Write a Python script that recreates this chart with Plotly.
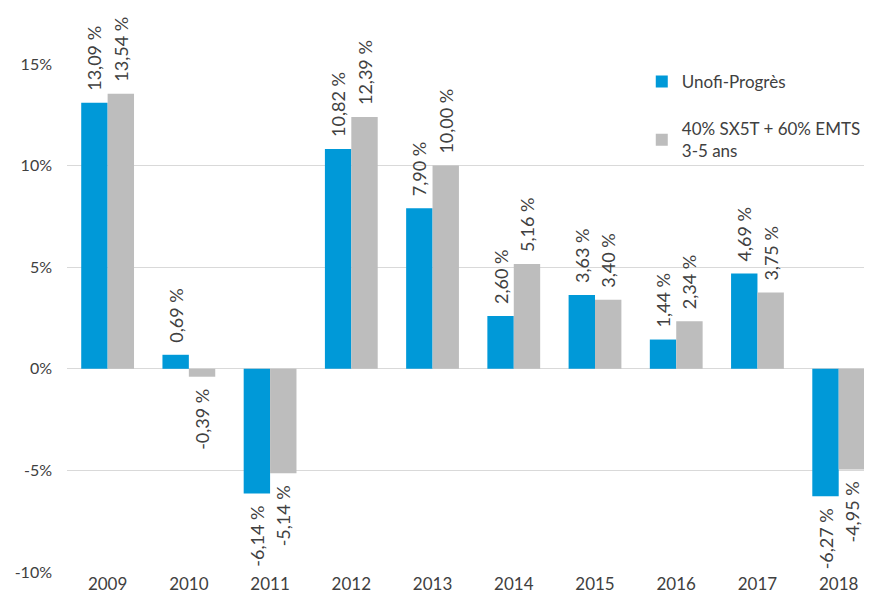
import plotly.graph_objects as go

years = ["2009", "2010", "2011", "2012", "2013", "2014", "2015", "2016", "2017", "2018"]
unofi = [13.09, 0.69, -6.14, 10.82, 7.90, 2.60, 3.63, 1.44, 4.69, -6.27]
bench = [13.54, -0.39, -5.14, 12.39, 10.00, 5.16, 3.40, 2.34, 3.75, -4.95]
names = ["Unofi-Progrès", "40% SX5T + 60% EMTS<br>3-5 ans"]
colors = ["#0099D8", "#BDBDBD"]
ytick_vals = [-10, -5, 0, 5, 10, 15]
ytick_text = ["-10%", "-5%", "0%", "5%", "10%", "15%"]

SP = "\u2002"

def fmt(v):
    s = f"{v:.2f}".replace(".", ",") + " %"
    return SP + s if v >= 0 else s + SP

FONT = "Lato"
xs = list(range(len(years)))
fig = go.Figure()
for i, (vals, name, col) in enumerate([(unofi, names[0], colors[0]), (bench, names[1], colors[1])]):
    fig.add_trace(go.Bar(
        x=xs, y=vals, name=name, marker_color=col, marker_line_width=0,
        text=[fmt(v) for v in vals], textposition="outside", textangle=-90,
        constraintext="none",
        textfont=dict(size=18, color="#404040", family=FONT),
        cliponaxis=False, legendgroup=f"g{i}",
    ))

fig.update_layout(
    width=872, height=608,
    margin=dict(l=59, r=8, t=56, b=44),
    paper_bgcolor="white", plot_bgcolor="white",
    barmode="group", bargap=0.35, bargroupgap=0.0,
    font=dict(family=FONT, size=16, color="#404040"),
    legend=dict(x=0.714, y=1.0, xanchor="left", yanchor="top",
                font=dict(size=17, color="#404040", family=FONT), tracegroupgap=22,
                bgcolor="rgba(0,0,0,0)"),
    xaxis=dict(tickmode="array", tickvals=xs, ticktext=years, range=[-0.5, 9.41],
               showgrid=False, zeroline=False, showline=False, ticks="",
               tickfont=dict(size=17, color="#404040", family=FONT)),
    yaxis=dict(range=[-10, 15], tickmode="array", tickvals=ytick_vals, ticktext=ytick_text,
               showgrid=True, gridcolor="#D9D9D9", gridwidth=1,
               zeroline=True, zerolinecolor="#D9D9D9", zerolinewidth=1,
               showline=False, ticks="", ticklabelstandoff=14,
               tickfont=dict(size=16, color="#404040", family=FONT)),
)
fig.write_html("out.html")
